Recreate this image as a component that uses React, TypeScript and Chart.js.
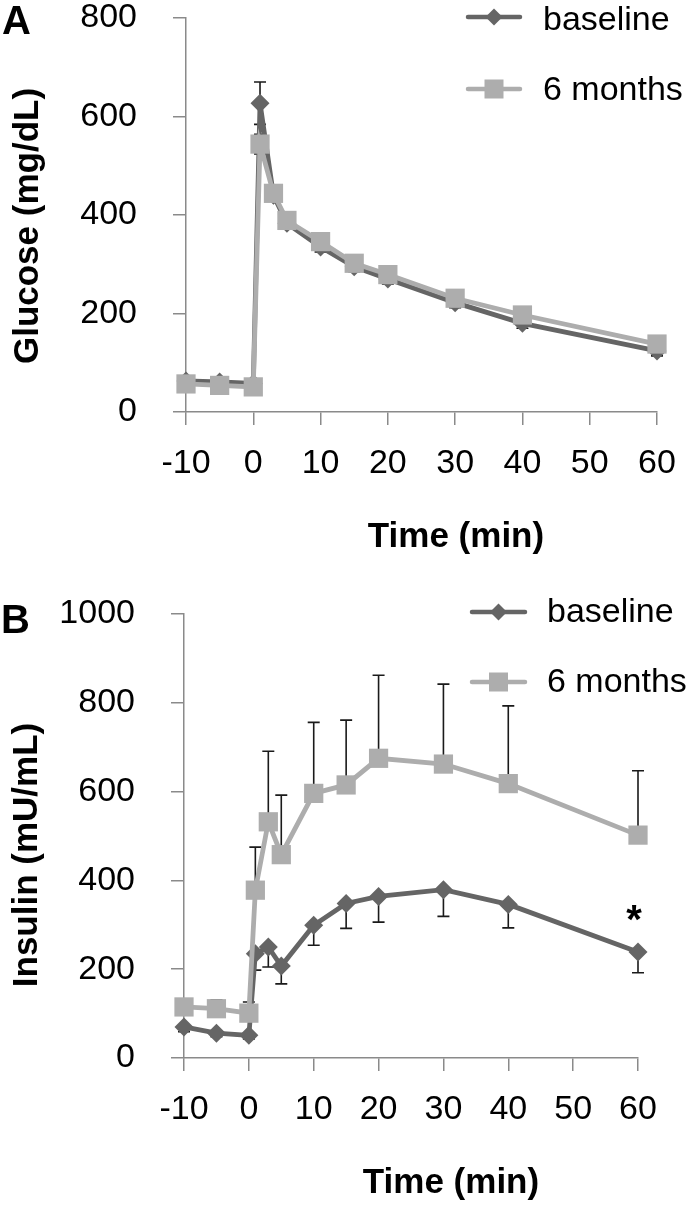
import React, { useEffect, useRef } from 'react';
import { Chart, registerables } from 'chart.js';

Chart.register(...registerables);

// ---------- data ----------
const timePoints = [-10, -5, 0, 1, 3, 5, 10, 15, 20, 30, 40, 60];
const seriesNames = ['baseline', '6 months'];

const glucoseBaseline = [63, 61, 58, 627, 440, 383, 335, 295, 270, 222, 180, 124];
const glucoseBaselineSE = [8, 8, 8, 43, 12, 10, 10, 10, 10, 10, 10, 10];
const glucose6m = [57, 54, 51, 544, 444, 389, 346, 302, 279, 231, 197, 138];
const glucose6mSE = [6, 6, 6, 20, 10, 8, 8, 8, 8, 8, 8, 8];

const insulinBaseline = [70, 56, 51, 235, 250, 207, 299, 348, 364, 379, 346, 239];
const insulinBaselineSE = [11, 8, 8, 37, 45, 40, 45, 56, 58, 60, 53, 47];
const insulin6m = [115, 111, 101, 378, 532, 458, 596, 615, 675, 662, 618, 502];
const insulin6mSE = [10, 20, 25, 97, 159, 134, 160, 146, 187, 180, 175, 145];

const xMin = -10;
const xMax = 60;
const xStep = 10;
const glucoseMax = 800;
const insulinMax = 1000;
const yStep = 200;

const insulinSignificance = [{ x: 60, y: 331, text: '*' }];

// ---------- styles ----------
const FONT = '"Liberation Sans", Arial, Helvetica, sans-serif';
const BASE_COLOR = '#656565';
const SIX_COLOR = '#adadad';
const AXIS_COLOR = '#8a8a8a';
const ERR_COLOR = '#1a1a1a';

type Layout = {
  top: number;
  height: number;
  left: number;
  areaTop: number;
  rightPad: number;
  xAxisHeight: number;
  letter: string;
  letterX: number;
  letterY: number;
  yTitle: string;
  yTitleX: number;
  yTitleY: number;
  xTitleX: number;
  xTitleY: number;
  legendLineX0: number;
  legendLineX1: number;
  legendLineY: number[];
  legendTextX: number;
  legendTextY: number[];
};

const layoutA: Layout = {
  top: 0,
  height: 560,
  left: 186,
  areaTop: 18,
  rightPad: 40,
  xAxisHeight: 148,
  letter: 'A',
  letterX: 2,
  letterY: 34,
  yTitle: 'Glucose (mg/dL)',
  yTitleX: 38,
  yTitleY: 226,
  xTitleX: 456,
  xTitleY: 547,
  legendLineX0: 468,
  legendLineX1: 520,
  legendLineY: [17, 89],
  legendTextX: 543,
  legendTextY: [30, 100],
};

const layoutB: Layout = {
  top: 560,
  height: 647,
  left: 184,
  areaTop: 54,
  rightPad: 59,
  xAxisHeight: 149,
  letter: 'B',
  letterX: 1,
  letterY: 73,
  yTitle: 'Insulin (mU/mL)',
  yTitleX: 37,
  yTitleY: 295,
  xTitleX: 451,
  xTitleY: 633,
  legendLineX0: 472,
  legendLineX1: 525,
  legendLineY: [52, 122],
  legendTextX: 547,
  legendTextY: [62, 132],
};

const errorBarPlugin = {
  id: 'errorBars',
  beforeDatasetsDraw(chart: any) {
    const ctx = chart.ctx;
    const yScale = chart.scales.y;
    ctx.save();
    ctx.strokeStyle = ERR_COLOR;
    ctx.lineWidth = 1.6;
    chart.data.datasets.forEach((ds: any, i: number) => {
      const meta = chart.getDatasetMeta(i);
      meta.data.forEach((pt: any, j: number) => {
        const v = ds.data[j].y;
        const x = pt.x;
        const y = pt.y;
        const segs: number[] = [];
        if (ds.errUp && ds.errUp[j]) segs.push(yScale.getPixelForValue(v + ds.errUp[j]));
        if (ds.errDown && ds.errDown[j]) segs.push(yScale.getPixelForValue(v - ds.errDown[j]));
        segs.forEach((ye) => {
          ctx.beginPath();
          ctx.moveTo(x, y);
          ctx.lineTo(x, ye);
          ctx.moveTo(x - 6, ye);
          ctx.lineTo(x + 6, ye);
          ctx.stroke();
        });
      });
    });
    ctx.restore();
  },
};

const overlayPlugin = {
  id: 'overlay',
  afterDraw(chart: any, _args: any, opts: any) {
    const L: Layout = opts.layout;
    const ctx = chart.ctx;
    ctx.save();
    ctx.fillStyle = '#000';
    // panel letter
    ctx.font = `bold 40px ${FONT}`;
    ctx.textAlign = 'left';
    ctx.textBaseline = 'alphabetic';
    ctx.fillText(L.letter, L.letterX, L.letterY);
    // x title
    ctx.font = `bold 35px ${FONT}`;
    ctx.textAlign = 'center';
    ctx.fillText('Time (min)', L.xTitleX, L.xTitleY);
    // y title
    ctx.save();
    ctx.translate(L.yTitleX, L.yTitleY);
    ctx.rotate(-Math.PI / 2);
    ctx.textAlign = 'center';
    ctx.textBaseline = 'alphabetic';
    ctx.fillText(L.yTitle, 0, 0);
    ctx.restore();
    // legend
    const colors = [BASE_COLOR, SIX_COLOR];
    seriesNames.forEach((name, i) => {
      const ly = L.legendLineY[i];
      ctx.strokeStyle = colors[i];
      ctx.lineWidth = 4.5;
      ctx.lineCap = 'round';
      ctx.beginPath();
      ctx.moveTo(L.legendLineX0, ly);
      ctx.lineTo(L.legendLineX1, ly);
      ctx.stroke();
      const cx = (L.legendLineX0 + L.legendLineX1) / 2;
      ctx.fillStyle = colors[i];
      ctx.beginPath();
      if (i === 0) {
        const r = 8.5;
        ctx.moveTo(cx - r, ly);
        ctx.lineTo(cx, ly - r);
        ctx.lineTo(cx + r, ly);
        ctx.lineTo(cx, ly + r);
        ctx.closePath();
      } else {
        const s = 9.5;
        ctx.rect(cx - s, ly - s, 2 * s, 2 * s);
      }
      ctx.fill();
      ctx.fillStyle = '#000';
      ctx.font = `34px ${FONT}`;
      ctx.textAlign = 'left';
      ctx.textBaseline = 'alphabetic';
      ctx.fillText(name, L.legendTextX, L.legendTextY[i]);
    });
    // annotations
    const ann = opts.annotations || [];
    ann.forEach((a: any) => {
      const px = chart.scales.x.getPixelForValue(a.x) - 4;
      const py = chart.scales.y.getPixelForValue(a.y);
      ctx.font = `bold 40px ${FONT}`;
      ctx.textAlign = 'center';
      ctx.textBaseline = 'alphabetic';
      ctx.fillText(a.text, px, py + 22);
    });
    ctx.restore();
  },
};

function makeDataset(label: string, values: number[], up: number[] | null, down: number[] | null, isBase: boolean) {
  const color = isBase ? BASE_COLOR : SIX_COLOR;
  return {
    label,
    data: timePoints.map((t, i) => ({ x: t, y: values[i] })),
    errUp: up,
    errDown: down,
    borderColor: color,
    backgroundColor: color,
    borderWidth: 4.8,
    pointStyle: isBase ? 'rectRot' : 'rect',
    pointRadius: isBase ? 9.5 : 13.6,
    pointBorderWidth: 0,
    pointBackgroundColor: color,
    tension: 0,
    clip: false as any,
    order: isBase ? 2 : 1,
  };
}

function Panel(props: {
  layout: Layout;
  yMax: number;
  datasets: any[];
  annotations?: any[];
}) {
  const ref = useRef<HTMLCanvasElement | null>(null);
  const { layout, yMax, datasets, annotations } = props;
  useEffect(() => {
    if (!ref.current) return;
    const tickFont = { family: FONT, size: 34, lineHeight: 1 };
    const chart = new Chart(ref.current, {
      type: 'line',
      data: { datasets },
      options: {
        responsive: false,
        animation: false,
        events: [],
        layout: { padding: { left: 0, top: layout.areaTop, right: layout.rightPad, bottom: 0 } },
        plugins: {
          legend: { display: false },
          tooltip: { enabled: false },
          overlay: { layout, annotations } as any,
        } as any,
        scales: {
          x: {
            type: 'linear',
            min: xMin,
            max: xMax,
            ticks: {
              stepSize: xStep,
              color: '#000',
              font: tickFont,
              padding: 22,
              autoSkip: false,
              maxRotation: 0,
              callback: (v: any) => String(v),
            },
            grid: {
              display: true,
              drawOnChartArea: false,
              drawTicks: true,
              tickLength: 13,
              color: AXIS_COLOR,
              lineWidth: 1.5,
            },
            border: { display: true, color: AXIS_COLOR, width: 1.5 },
            afterFit: (s: any) => {
              s.height = layout.xAxisHeight;
              s.paddingLeft = 0;
              s.paddingRight = 0;
            },
          },
          y: {
            type: 'linear',
            min: 0,
            max: yMax,
            ticks: {
              stepSize: yStep,
              color: '#000',
              font: tickFont,
              padding: 36,
              callback: (v: any) => String(v),
            },
            grid: {
              display: true,
              drawOnChartArea: false,
              drawTicks: true,
              tickLength: 13,
              color: AXIS_COLOR,
              lineWidth: 1.5,
            },
            border: { display: true, color: AXIS_COLOR, width: 1.5 },
            afterFit: (s: any) => {
              s.width = layout.left;
              s.paddingTop = 0;
              s.paddingBottom = 0;
            },
          },
        } as any,
      },
      plugins: [errorBarPlugin, overlayPlugin],
    } as any);
    return () => chart.destroy();
  }, []);
  return (
    <canvas
      ref={ref}
      width={697}
      height={layout.height}
      style={{ position: 'absolute', left: 0, top: layout.top, width: 697, height: layout.height, display: 'block' }}
    />
  );
}

export default function App() {
  const glucoseSets = [
    makeDataset(seriesNames[0], glucoseBaseline, glucoseBaselineSE, glucoseBaselineSE, true),
    makeDataset(seriesNames[1], glucose6m, glucose6mSE, glucose6mSE, false),
  ];
  const insulinSets = [
    makeDataset(seriesNames[0], insulinBaseline, null, insulinBaselineSE, true),
    makeDataset(seriesNames[1], insulin6m, insulin6mSE, null, false),
  ];
  return (
    <div style={{ position: 'absolute', left: 0, top: 0, width: 697, height: 1207, background: '#fff' }}>
      <Panel layout={layoutA} yMax={glucoseMax} datasets={glucoseSets} />
      <Panel layout={layoutB} yMax={insulinMax} datasets={insulinSets} annotations={insulinSignificance} />
    </div>
  );
}
